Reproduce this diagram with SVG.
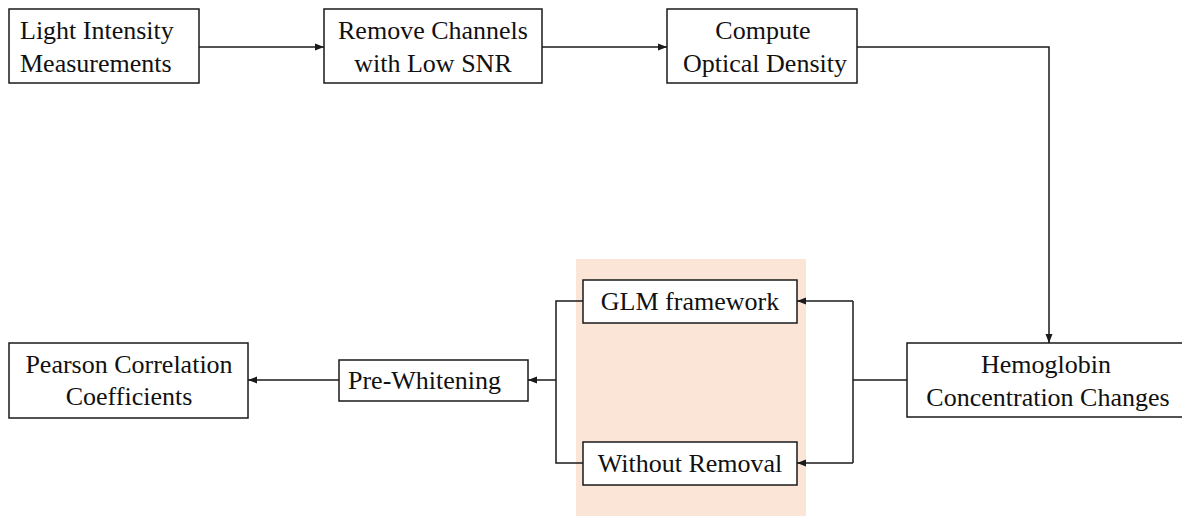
<svg xmlns="http://www.w3.org/2000/svg" width="1182" height="516" viewBox="0 0 1182 516">
  <style>
    .box { fill: #ffffff; stroke: #1a1a1a; stroke-width: 1.5; }
    .lbl { font-family: "Liberation Serif", "Times New Roman", serif; font-size: 26px; fill: #111111; }
    .c { text-anchor: middle; }
    .conn { fill: none; stroke: #1a1a1a; stroke-width: 1.5; }
    .arr { marker-end: url(#ah); }
  </style>
  <defs>
    <marker id="ah" markerUnits="userSpaceOnUse" markerWidth="10" markerHeight="8" refX="9" refY="4" orient="auto">
      <path d="M0,0.5 L9,4 L0,7.5 z" fill="#1a1a1a"/>
    </marker>
  </defs>
  <rect width="1182" height="516" fill="#ffffff"/>
  <rect id="highlight" x="576" y="259" width="230" height="257" fill="#fbe5d6"/>

  <g id="connectors">
    <line class="conn arr" x1="199" y1="47" x2="324" y2="47"/>
    <line class="conn arr" x1="542" y1="47" x2="667" y2="47"/>
    <polyline class="conn arr" points="857,47 1049,47 1049,343"/>
    <line class="conn" x1="907" y1="380" x2="853" y2="380"/>
    <line class="conn" x1="853" y1="301" x2="853" y2="463"/>
    <line class="conn arr" x1="853" y1="301" x2="797" y2="301"/>
    <line class="conn arr" x1="853" y1="463" x2="797" y2="463"/>
    <polyline class="conn" points="583,301 556,301 556,463 583,463"/>
    <line class="conn arr" x1="556" y1="380" x2="528" y2="380"/>
    <line class="conn arr" x1="339" y1="380" x2="248" y2="380"/>
  </g>

  <g id="light">
    <rect class="box" x="9" y="9" width="190" height="74"/>
    <text class="lbl" x="20" y="39">Light Intensity</text>
    <text class="lbl" x="20" y="72">Measurements</text>
  </g>
  <g id="remove">
    <rect class="box" x="324" y="9" width="218" height="74"/>
    <text class="lbl c" x="433" y="39">Remove Channels</text>
    <text class="lbl c" x="433" y="72">with Low SNR</text>
  </g>
  <g id="od">
    <rect class="box" x="667" y="9" width="190" height="74"/>
    <text class="lbl c" x="763" y="39">Compute</text>
    <text class="lbl c" x="765" y="72">Optical Density</text>
  </g>
  <g id="hemo">
    <rect class="box" x="907" y="343" width="283" height="74"/>
    <text class="lbl c" x="1046" y="373">Hemoglobin</text>
    <text class="lbl c" x="1048" y="406">Concentration Changes</text>
  </g>
  <g id="glm">
    <rect class="box" x="583" y="280" width="214" height="43"/>
    <text class="lbl c" x="690" y="310">GLM framework</text>
  </g>
  <g id="without">
    <rect class="box" x="583" y="442" width="214" height="43"/>
    <text class="lbl c" x="690" y="472">Without Removal</text>
  </g>
  <g id="prewhite">
    <rect class="box" x="339" y="360" width="189" height="41"/>
    <text class="lbl" x="348" y="389">Pre-Whitening</text>
  </g>
  <g id="pearson">
    <rect class="box" x="9" y="343" width="239" height="75"/>
    <text class="lbl c" x="129" y="373">Pearson Correlation</text>
    <text class="lbl c" x="129" y="405">Coefficients</text>
  </g>
</svg>
